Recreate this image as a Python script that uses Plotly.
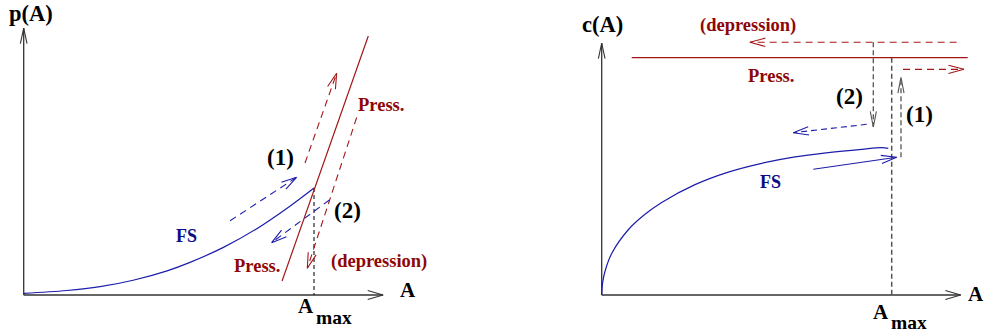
import math
import plotly.graph_objects as go

# ---------------------------------------------------------------------------
# Left panel: p(A) versus A (A in units of A_max, p in units of p(A_max))
# ---------------------------------------------------------------------------
fs_p_A = [0.0, 0.148, 0.263, 0.377, 0.494, 0.573, 0.688, 0.803, 0.917, 1.0]
fs_p = [0.016, 0.042, 0.078, 0.138, 0.226, 0.305, 0.445, 0.620, 0.830, 1.0]

press_p_A = [0.890, 1.187]
press_p = [0.131, 2.421]

p_up1_A = [0.969, 1.078]      # path (1) along the pressure line
p_up1 = [1.234, 2.072]
p_down2_A = [1.147, 0.977]    # path (2), depression along the pressure line
p_down2 = [1.659, 0.250]
fs_up1_A = [0.711, 0.940]     # path (1) along FS
fs_up1 = [0.694, 1.100]
fs_down2_A = [1.053, 0.854]   # path (2) back along FS
fs_down2 = [0.888, 0.489]
p_amax_A = [1.0, 1.0]
p_amax = [1.0, 0.0]

p_axis_x = [0.0, 1.238]
p_axis_y = [0.0, 2.495]

# ---------------------------------------------------------------------------
# Right panel: c(A) versus A (c in units of the pressure level)
# ---------------------------------------------------------------------------
fs_c_A = [0.0, 0.003, 0.0114, 0.0345, 0.0917, 0.1493, 0.2069, 0.3217,
          0.4366, 0.5517, 0.6666, 0.7814, 0.8966, 0.9655, 0.9883]
fs_c = [0.0, 0.05, 0.10, 0.175, 0.275, 0.340, 0.390, 0.465,
        0.518, 0.555, 0.582, 0.600, 0.614, 0.621, 0.618]

press_c_A = [0.1034, 1.262]
press_c = [1.0, 1.0]

c_dep_A = [1.224, 0.511]       # depression, leftwards
c_dep = [1.065, 1.065]
c_right_A = [1.039, 1.249]     # pressure level, rightwards
c_right = [0.951, 0.951]
c_drop2_A = [0.9366, 0.9366]   # path (2) down
c_drop2 = [1.065, 0.708]
c_rise1_A = [1.032, 1.032]     # path (1) up
c_rise1 = [0.580, 0.917]
c_back_A = [0.9138, 0.6607]    # back along FS
c_back = [0.7193, 0.684]
c_fwd_A = [0.7297, 1.0172]     # forward along FS
c_fwd = [0.5297, 0.5803]
c_amax_A = [1.0, 1.0]
c_amax = [1.0, 0.0]

c_axis_x = [0.0, 1.238]
c_axis_y = [0.0, 1.062]

# ---------------------------------------------------------------------------
W, H = 985, 334
# pixel placement of each panel: origin and pixels per unit
PANELS = {
    "L": dict(ox=23.7, oy=295.0, sx=290.3, sy=107.0, xa="x", ya="y", dom=(0.0, 0.5)),
    "R": dict(ox=601.7, oy=295.0, sx=290.0, sy=237.3, xa="x2", ya="y2", dom=(0.5, 1.0)),
}

BLUE = "#1d1dab"
BLUE_T = "#0c0c86"
RED = "#a31616"
RED_T = "#8e0707"
AXIS = "#333333"
SERIF = "Liberation Serif, Times New Roman, serif"

fig = go.Figure()


def to_px(panel, a, v):
    p = PANELS[panel]
    return p["ox"] + a * p["sx"], p["oy"] - v * p["sy"]


def to_data(panel, px, py):
    p = PANELS[panel]
    return (px - p["ox"]) / p["sx"], (p["oy"] - py) / p["sy"]


def line(panel, xs, ys, color, width=1.2, dash="solid", shape="linear"):
    p = PANELS[panel]
    fig.add_trace(go.Scatter(
        x=xs, y=ys, mode="lines", xaxis=p["xa"], yaxis=p["ya"],
        line=dict(color=color, width=width, dash=dash, shape=shape, smoothing=1.0),
        hoverinfo="skip", showlegend=False))


def head(panel, xs, ys, color, width=1.1, length=16, half_angle=15):
    # open V-shaped head at the last point, built in pixel space
    x0, y0 = to_px(panel, xs[-2], ys[-2])
    x1, y1 = to_px(panel, xs[-1], ys[-1])
    ang = math.atan2(y1 - y0, x1 - x0)
    pts = []
    for s in (1, -1):
        a = ang + math.pi + s * math.radians(half_angle)
        pts.append(to_data(panel, x1 + length * math.cos(a), y1 + length * math.sin(a)))
    hx = [pts[0][0], xs[-1], pts[1][0]]
    hy = [pts[0][1], ys[-1], pts[1][1]]
    line(panel, hx, hy, color, width=width)


def arrow(panel, xs, ys, color, width=1.1, dash="6px,4px", **kw):
    line(panel, xs, ys, color, width=width, dash=dash)
    head(panel, xs, ys, color, width=1.1, **kw)


# --- left panel -----------------------------------------------------------
arrow("L", p_axis_x, [0, 0], AXIS, width=1.3, dash="solid", length=16, half_angle=16)
arrow("L", [0, 0], p_axis_y, AXIS, width=1.3, dash="solid", length=16, half_angle=12)
line("L", p_amax_A, p_amax, "#111111", width=1.1, dash="4px,3px")
line("L", fs_p_A, fs_p, BLUE, width=1.2, shape="spline")
line("L", press_p_A, press_p, RED, width=1.2)
arrow("L", p_up1_A, p_up1, RED, dash="7px,5px")
arrow("L", p_down2_A, p_down2, RED, dash="7px,5px")
arrow("L", fs_up1_A, fs_up1, BLUE, dash="7px,5px")
arrow("L", fs_down2_A, fs_down2, BLUE, dash="7px,5px")

# --- right panel ----------------------------------------------------------
arrow("R", c_axis_x, [0, 0], AXIS, width=1.3, dash="solid", length=16, half_angle=16)
arrow("R", [0, 0], c_axis_y, AXIS, width=1.3, dash="solid", length=16, half_angle=12)
line("R", c_amax_A, c_amax, "#555555", width=1.5, dash="5px,3px")
line("R", fs_c_A, fs_c, BLUE, width=1.2, shape="spline")
line("R", press_c_A, press_c, RED, width=1.2)
arrow("R", c_dep_A, c_dep, RED, dash="7px,5px")
arrow("R", c_right_A, c_right, RED, dash="7px,5px")
arrow("R", c_drop2_A, c_drop2, "#555555", width=1.3, dash="5px,3px", half_angle=11)
arrow("R", c_rise1_A, c_rise1, "#555555", width=1.3, dash="5px,3px", half_angle=11)
arrow("R", c_back_A, c_back, BLUE, dash="6px,4px")
arrow("R", c_fwd_A, c_fwd, BLUE, dash="solid")

# --- axes (hidden; they only carry the pixel mapping) -----------------------
layout_axes = {}
for key, p in PANELS.items():
    d0, d1 = p["dom"]
    xr = [(d0 * W - p["ox"]) / p["sx"], (d1 * W - p["ox"]) / p["sx"]]
    yr = [(p["oy"] - H) / p["sy"], p["oy"] / p["sy"]]
    xname = "xaxis" if p["xa"] == "x" else "xaxis2"
    yname = "yaxis" if p["ya"] == "y" else "yaxis2"
    layout_axes[xname] = dict(domain=[d0, d1], range=xr, visible=False, fixedrange=True,
                              anchor=p["ya"])
    layout_axes[yname] = dict(domain=[0, 1], range=yr, visible=False, fixedrange=True,
                              anchor=p["xa"])

# --- text -------------------------------------------------------------------
def label(px, py, text, size, color="#000000", xanchor="center"):
    fig.add_annotation(x=px / W, y=1 - py / H, xref="paper", yref="paper",
                       text="<b>" + text + "</b>", showarrow=False,
                       xanchor=xanchor, yanchor="middle",
                       font=dict(family=SERIF, size=size, color=color))


label(31.3, 13.5, "p(A)", 22.5)
label(280.8, 157, "(1)", 23)
label(347.5, 210.5, "(2)", 23)
label(380.8, 105.5, "Press.", 18.5, RED_T)
label(256.8, 265.5, "Press.", 18.5, RED_T)
label(379.2, 261, "(depression)", 18.5, RED_T)
label(186.3, 236, "FS", 18, BLUE_T)
label(407.5, 289.5, "A", 21)
label(315.5, 305.5, "A", 21, xanchor="right")
label(313.5, 317.5, "max", 19.5, xanchor="left")

label(602, 25, "c(A)", 22.5)
label(748.3, 25.5, "(depression)", 18.5, RED_T)
label(770.8, 75.5, "Press.", 18.5, RED_T)
label(849.2, 96.5, "(2)", 23)
label(919.2, 114, "(1)", 23)
label(770, 182, "FS", 18, BLUE_T)
label(976, 294, "A", 21)
label(890.5, 311.5, "A", 21, xanchor="right")
label(888.5, 322.5, "max", 19.5, xanchor="left")

fig.update_layout(
    width=W, height=H, autosize=False,
    margin=dict(l=0, r=0, t=0, b=0),
    paper_bgcolor="white", plot_bgcolor="white",
    showlegend=False,
    **layout_axes,
)

fig.write_html("out.html", config={"displayModeBar": False})
